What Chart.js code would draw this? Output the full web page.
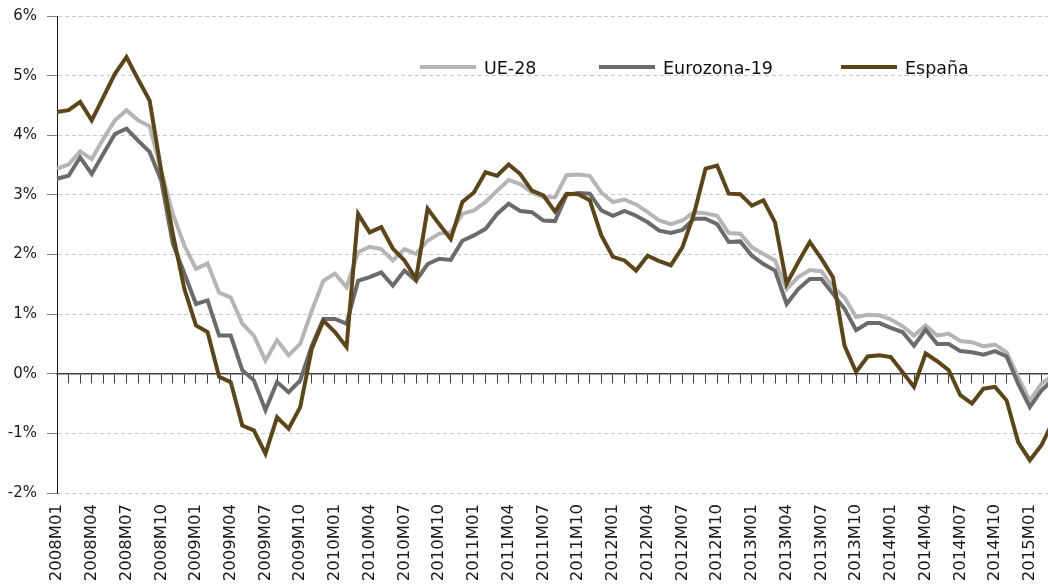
<!DOCTYPE html>
<html>
<head>
<meta charset="utf-8">
<script src="https://cdn.jsdelivr.net/npm/chart.js@4.4.1/dist/chart.umd.min.js"></script>
<style>
    html, body { margin: 0; padding: 0; overflow: hidden; background: #fff; }
    .chart-wrap { position: relative; width: 1060px; height: 588px; }
</style>
</head>
<body>
<div class="chart-wrap"><canvas id="inflationChart"></canvas></div>
<script>
// Months 2008M01 .. 2015M03
const months = [];
for (let y = 2008; y <= 2015; y++) {
    for (let m = 1; m <= 12; m++) {
        if (y === 2015 && m > 3) break;
        months.push(y + 'M' + String(m).padStart(2, '0'));
    }
}

const yTicks = [-2, -1, 0, 1, 2, 3, 4, 5, 6];

const ue28 = [3.44, 3.51, 3.73, 3.60, 3.94, 4.25, 4.42, 4.25, 4.15, 3.40,
    2.68, 2.15, 1.76, 1.85, 1.36, 1.28, 0.84, 0.64, 0.22, 0.56,
    0.31, 0.50, 1.06, 1.56, 1.68, 1.45, 2.04, 2.13, 2.09, 1.90,
    2.09, 2.01, 2.23, 2.35, 2.37, 2.68, 2.74, 2.88, 3.07, 3.25,
    3.18, 3.04, 2.96, 2.96, 3.33, 3.34, 3.32, 3.04, 2.88, 2.92,
    2.84, 2.71, 2.57, 2.51, 2.57, 2.71, 2.69, 2.65, 2.36, 2.35,
    2.12, 2.01, 1.90, 1.42, 1.62, 1.74, 1.72, 1.45, 1.28, 0.95,
    0.99, 0.98, 0.91, 0.80, 0.64, 0.81, 0.64, 0.67, 0.55, 0.53,
    0.46, 0.49, 0.36, -0.06, -0.45, -0.17, -0.02];

const eurozona19 = [3.27, 3.32, 3.63, 3.35, 3.69, 4.02, 4.11, 3.91, 3.72, 3.24,
    2.18, 1.68, 1.17, 1.23, 0.64, 0.64, 0.06, -0.11, -0.61, -0.14,
    -0.31, -0.11, 0.47, 0.92, 0.92, 0.84, 1.56, 1.62, 1.70, 1.48,
    1.73, 1.56, 1.84, 1.93, 1.91, 2.23, 2.32, 2.43, 2.68, 2.85,
    2.73, 2.71, 2.57, 2.56, 3.00, 3.03, 3.02, 2.74, 2.65, 2.73,
    2.65, 2.54, 2.40, 2.36, 2.41, 2.60, 2.60, 2.51, 2.21, 2.22,
    1.98, 1.84, 1.73, 1.17, 1.42, 1.59, 1.59, 1.34, 1.09, 0.73,
    0.85, 0.85, 0.77, 0.70, 0.47, 0.74, 0.50, 0.50, 0.38, 0.36,
    0.32, 0.38, 0.29, -0.17, -0.56, -0.28, -0.10];

const espana = [4.39, 4.42, 4.56, 4.25, 4.64, 5.03, 5.31, 4.94, 4.58, 3.40,
    2.35, 1.42, 0.81, 0.70, -0.05, -0.14, -0.87, -0.95, -1.34, -0.73,
    -0.92, -0.56, 0.42, 0.89, 0.70, 0.45, 2.68, 2.37, 2.46, 2.10,
    1.90, 1.59, 2.77, 2.51, 2.26, 2.88, 3.04, 3.38, 3.32, 3.51,
    3.35, 3.07, 2.99, 2.72, 3.02, 3.01, 2.91, 2.32, 1.96, 1.90,
    1.73, 1.98, 1.89, 1.82, 2.12, 2.68, 3.44, 3.49, 3.02, 3.01,
    2.82, 2.91, 2.54, 1.51, 1.87, 2.21, 1.93, 1.62, 0.47, 0.03,
    0.29, 0.31, 0.28, 0.03, -0.22, 0.34, 0.21, 0.06, -0.36, -0.50,
    -0.25, -0.22, -0.45, -1.15, -1.45, -1.20, -0.80];

const FONT = '"DejaVu Sans", sans-serif';

// legend drawn inside the plot area, one entry per dataset
const legendStarts = [420, 599, 841];
const insideLegend = {
    id: 'insideLegend',
    afterDatasetsDraw(chart) {
        const ctx = chart.ctx;
        const y = 67;
        ctx.save();
        ctx.font = '17.5px ' + FONT;
        ctx.textBaseline = 'alphabetic';
        chart.data.datasets.forEach((ds, i) => {
            const x = legendStarts[i];
            ctx.strokeStyle = ds.borderColor;
            ctx.lineWidth = 4;
            ctx.beginPath();
            ctx.moveTo(x, y);
            ctx.lineTo(x + 56, y);
            ctx.stroke();
            ctx.fillStyle = '#111111';
            ctx.fillText(ds.label, x + 64, y + 6.5);
        });
        ctx.restore();
    }
};

const ctx = document.getElementById('inflationChart').getContext('2d');
const chart = new Chart(ctx, {
    type: 'line',
    data: {
        labels: months,
        datasets: [{
            label: 'UE-28',
            data: ue28,
            borderColor: '#b5b5b5',
            borderWidth: 4,
            pointRadius: 0,
            order: 3
        }, {
            label: 'Eurozona-19',
            data: eurozona19,
            borderColor: '#6b6b6b',
            borderWidth: 4,
            pointRadius: 0,
            order: 2
        }, {
            label: 'España',
            data: espana,
            borderColor: '#5c4517',
            borderWidth: 4,
            pointRadius: 0,
            order: 1
        }]
    },
    options: {
        responsive: true,
        maintainAspectRatio: false,
        animation: false,
        layout: {
            padding: { top: 16, right: 7, bottom: 0, left: 0 }
        },
        plugins: {
            legend: { display: false },
            tooltip: { enabled: false }
        },
        scales: {
            x: {
                type: 'category',
                position: 'bottom',
                offset: false,
                grid: { display: false, drawTicks: false },
                border: { display: false },
                ticks: {
                    autoSkip: false,
                    minRotation: 90,
                    maxRotation: 90,
                    padding: 11,
                    color: '#1a1a1a',
                    font: { family: FONT, size: 16.5 },
                    callback: function(val, idx) {
                        return idx % 3 === 0 ? months[idx] : '';
                    }
                },
                afterFit: function(scale) {
                    scale.height = 95;
                    scale.paddingLeft = 0;
                    scale.paddingRight = 0;
                }
            },
            xZero: {
                type: 'category',
                position: { y: 0 },
                offset: false,
                grid: {
                    drawOnChartArea: false,
                    drawTicks: true,
                    tickLength: 9,
                    color: '#404040',
                    lineWidth: 1
                },
                border: { color: '#404040', width: 1.5 },
                ticks: { display: false, autoSkip: false },
                afterFit: function(scale) {
                    scale.paddingLeft = 0;
                    scale.paddingRight = 0;
                }
            },
            y: {
                min: -2,
                max: 6,
                afterBuildTicks: function(scale) {
                    scale.ticks = yTicks.map(v => ({ value: v }));
                },
                grid: {
                    color: '#c8c8c8',
                    lineWidth: 1,
                    tickLength: 10,
                    tickColor: '#808080'
                },
                border: { color: '#1a1a1a', width: 1, dash: [4, 3] },
                ticks: {
                    padding: 10,
                    color: '#1a1a1a',
                    font: { family: FONT, size: 15 },
                    callback: v => v + '%'
                },
                afterFit: function(scale) {
                    scale.width = 57;
                    scale.paddingTop = 0;
                    scale.paddingBottom = 0;
                }
            }
        }
    },
    plugins: [insideLegend]
});
</script>
</body>
</html>
